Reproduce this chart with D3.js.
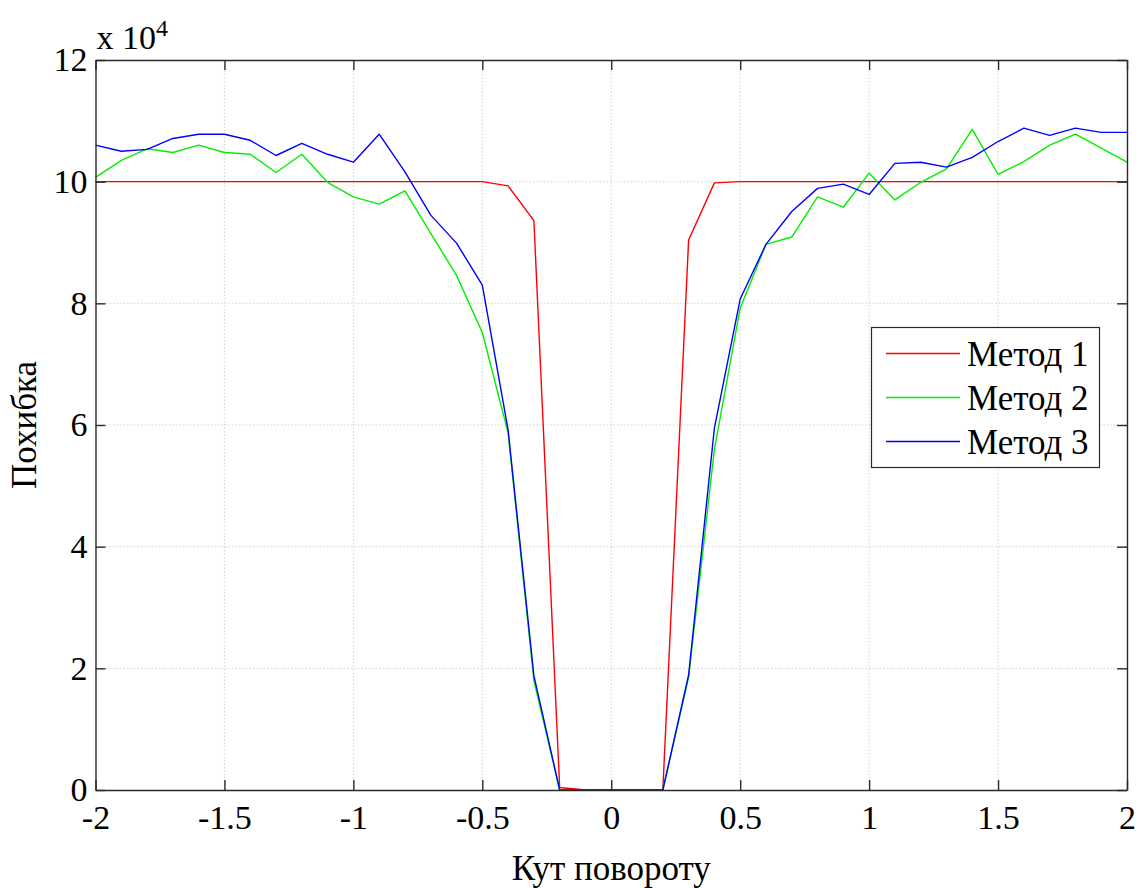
<!DOCTYPE html>
<html>
<head>
<meta charset="utf-8">
<script src="https://cdn.jsdelivr.net/npm/d3@7"></script>
<style>
	body { margin: 0; background: #fff; }
	svg text { font-family: "Liberation Serif", "Times New Roman", serif; fill: #000; }
</style>
</head>
<body>
<svg id="chart" width="1141" height="888"></svg>
<script>

// rotation angle (x axis)
let angles = [
	-2.0, -1.9, -1.8, -1.7, -1.6, -1.5, -1.4, -1.3, -1.2, -1.1,
	-1.0, -0.9, -0.8, -0.7, -0.6, -0.5, -0.4, -0.3, -0.2, -0.1,
	0.0, 0.1, 0.2, 0.3, 0.4, 0.5, 0.6, 0.7, 0.8, 0.9,
	1.0, 1.1, 1.2, 1.3, 1.4, 1.5, 1.6, 1.7, 1.8, 1.9, 2.0
];

// errors, in units of 10^4
let method1 = [
	10, 10, 10, 10, 10, 10, 10, 10, 10, 10,
	10, 10, 10, 10, 10, 10, 9.93, 9.36, 0.04, 0,
	0, 0, 0, 9.04, 9.98, 10, 10, 10, 10, 10,
	10, 10, 10, 10, 10, 10, 10, 10, 10, 10, 10
];
let method2 = [
	10.07, 10.35, 10.54, 10.48, 10.60, 10.48, 10.45, 10.15, 10.45, 9.99,
	9.75, 9.63, 9.85, 9.15, 8.46, 7.52, 5.87, 1.80, 0, 0,
	0, 0, 0, 1.85, 5.60, 7.92, 8.97, 9.09, 9.75, 9.58,
	10.14, 9.70, 9.99, 10.21, 10.86, 10.12, 10.33, 10.60, 10.78, 10.55, 10.32
];
let method3 = [
	10.60, 10.50, 10.53, 10.71, 10.78, 10.78, 10.68, 10.43, 10.63, 10.45,
	10.32, 10.78, 10.16, 9.45, 8.99, 8.30, 5.92, 1.88, 0, 0,
	0, 0, 0, 1.89, 5.95, 8.07, 8.97, 9.51, 9.89, 9.96,
	9.79, 10.30, 10.32, 10.24, 10.40, 10.66, 10.88, 10.76, 10.88, 10.81, 10.81
];

let seriesNames = ['Метод 1', 'Метод 2', 'Метод 3'];
let seriesColors = ['#ff0000', '#00ee00', '#0000ff'];

let xTicks = [-2, -1.5, -1, -0.5, 0, 0.5, 1, 1.5, 2];
let yTicks = [0, 2, 4, 6, 8, 10, 12];

let plot = { left: 95.5, right: 1127, top: 60, bottom: 790 };
let fontSize = 35;
let tickFont = 34;
let serif = '"Liberation Serif", "Times New Roman", serif';

let svg = d3.select('#chart');

let xScale = d3.scaleLinear().domain([-2, 2]).range([plot.left, plot.right]);
let yScale = d3.scaleLinear().domain([0, 12]).range([plot.bottom, plot.top]);

// dotted grid
let grid = svg.append('g').attr('stroke', '#c8c8c8').attr('stroke-width', 0.8)
	.attr('stroke-dasharray', '1.5,2');
xTicks.slice(1, -1).forEach(t => {
	grid.append('line')
		.attr('x1', xScale(t)).attr('x2', xScale(t))
		.attr('y1', plot.top).attr('y2', plot.bottom);
});
yTicks.slice(1, -1).forEach(t => {
	grid.append('line')
		.attr('x1', plot.left).attr('x2', plot.right)
		.attr('y1', yScale(t)).attr('y2', yScale(t));
});

// series lines
let line = d3.line()
	.x((d, i) => xScale(angles[i]))
	.y(d => yScale(d));

[method1, method2, method3].forEach((s, k) => {
	svg.append('path')
		.datum(s)
		.attr('fill', 'none')
		.attr('stroke', seriesColors[k])
		.attr('stroke-width', 1.4)
		.attr('stroke-linejoin', 'round')
		.attr('d', line);
});

// axes (ticks point inward)
let plainNum = d => String(d);

function styleAxis(g, labels) {
	g.attr('font-family', null).attr('font-size', null);
	g.selectAll('path').attr('stroke', '#2a2a2a').attr('stroke-width', 1.4);
	g.selectAll('line').attr('stroke', '#2a2a2a').attr('stroke-width', 1.4);
	g.selectAll('text')
		.style('font-family', serif)
		.style('font-size', tickFont + 'px')
		.attr('fill', '#000');
	if (!labels) g.selectAll('text').remove();
}

let xAxis = svg.append('g')
	.attr('transform', `translate(0,${plot.bottom})`)
	.call(d3.axisBottom(xScale).tickValues(xTicks).tickFormat(plainNum).tickSizeInner(-10).tickSizeOuter(0).tickPadding(15));
styleAxis(xAxis, true);

let yAxis = svg.append('g')
	.attr('transform', `translate(${plot.left},0)`)
	.call(d3.axisLeft(yScale).tickValues(yTicks).tickFormat(plainNum).tickSizeInner(-10).tickSizeOuter(0).tickPadding(8));
styleAxis(yAxis, true);

let topAxis = svg.append('g')
	.attr('transform', `translate(0,${plot.top})`)
	.call(d3.axisTop(xScale).tickValues(xTicks).tickSizeInner(-10).tickSizeOuter(0));
styleAxis(topAxis, false);

let rightAxis = svg.append('g')
	.attr('transform', `translate(${plot.right},0)`)
	.call(d3.axisRight(yScale).tickValues(yTicks).tickSizeInner(-10).tickSizeOuter(0));
styleAxis(rightAxis, false);

// exponent note
let expo = svg.append('text')
	.attr('x', plot.left + 1)
	.attr('y', 49)
	.style('font-size', tickFont + 'px');
expo.append('tspan').text('x 10');
expo.append('tspan').attr('dy', -13).style('font-size', '24px').text('4');

// axis titles
svg.append('text')
	.attr('x', xScale(0))
	.attr('y', 880)
	.attr('text-anchor', 'middle')
	.style('font-size', fontSize + 'px')
	.text('Кут повороту');

svg.append('text')
	.attr('transform', 'translate(36,425) rotate(-90)')
	.attr('text-anchor', 'middle')
	.style('font-size', fontSize + 'px')
	.text('Похибка');

// legend
let legend = svg.append('g');
legend.append('rect')
	.attr('x', 871.5).attr('y', 327.5)
	.attr('width', 228).attr('height', 140)
	.attr('fill', '#fff')
	.attr('stroke', '#2a2a2a')
	.attr('stroke-width', 1.2);

seriesNames.forEach((name, k) => {
	let cy = 353.5 + k * 44;
	legend.append('line')
		.attr('x1', 886).attr('x2', 960)
		.attr('y1', cy).attr('y2', cy)
		.attr('stroke', seriesColors[k])
		.attr('stroke-width', 1.4);
	legend.append('text')
		.attr('x', 967)
		.attr('y', cy + 12)
		.style('font-size', fontSize + 'px')
		.text(name);
});

</script>
</body>
</html>
